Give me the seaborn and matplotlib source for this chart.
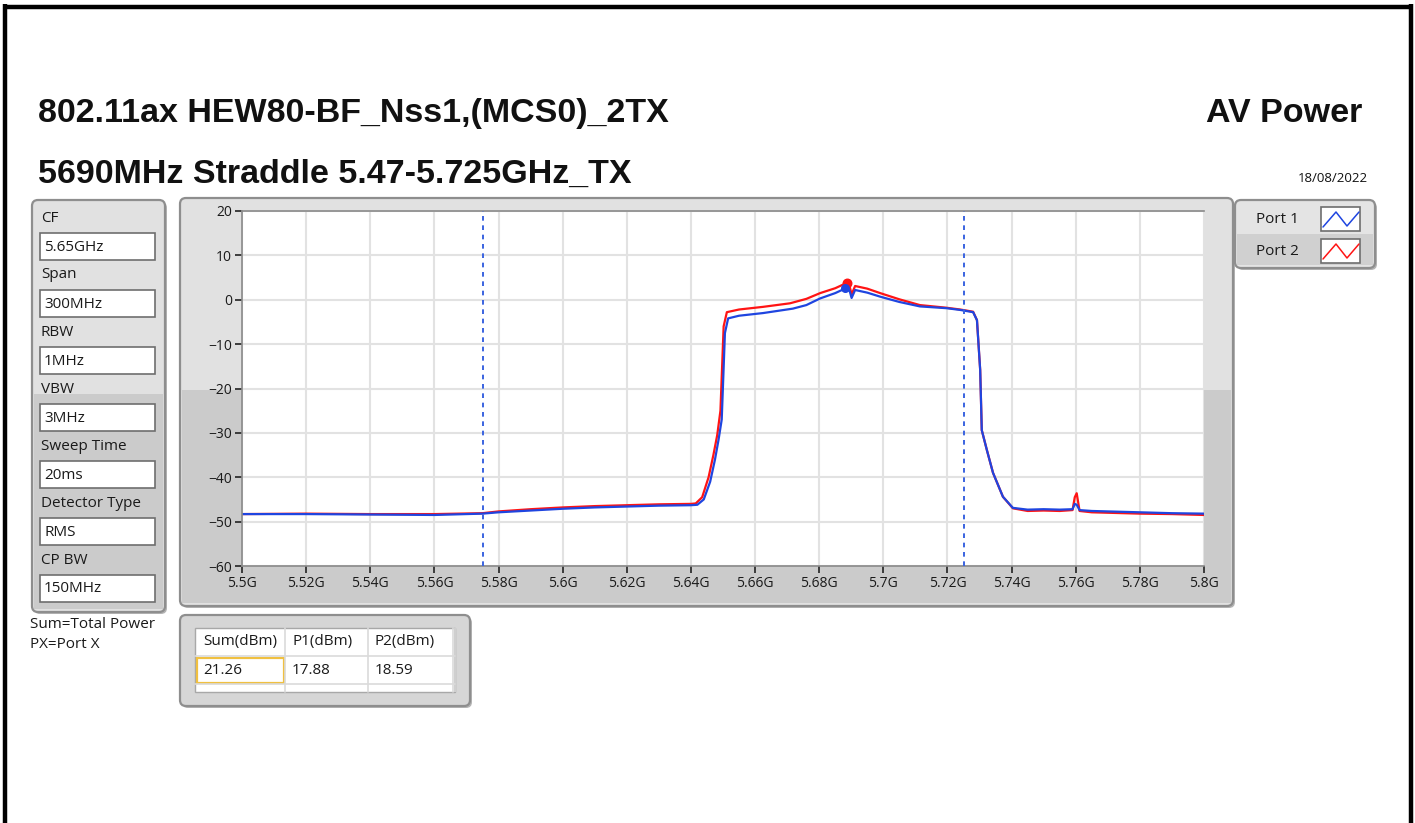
import matplotlib
matplotlib.use("Agg")
import matplotlib.pyplot as plt
from matplotlib.patches import FancyBboxPatch, Rectangle
import seaborn as sns
import pandas as pd

# values
port1_freq = [5.500, 5.520, 5.540, 5.560, 5.575, 5.580, 5.590, 5.600, 5.610, 5.620,
              5.630, 5.640, 5.642, 5.644, 5.646, 5.6475, 5.6486, 5.6496, 5.6506, 5.6516,
              5.655, 5.6625, 5.6718, 5.676, 5.6803, 5.685, 5.688, 5.6895, 5.6901, 5.6912,
              5.695, 5.699, 5.705, 5.7114, 5.7197, 5.724, 5.728, 5.7292, 5.7302, 5.7307,
              5.7323, 5.7342, 5.7373, 5.7404, 5.745, 5.750, 5.755, 5.759, 5.7597, 5.7603,
              5.7612, 5.765, 5.770, 5.780, 5.790, 5.800]
port1_dbm = [-48.3, -48.3, -48.4, -48.5, -48.2, -47.9, -47.5, -47.1, -46.8, -46.6,
             -46.4, -46.3, -46.2, -45.0, -41.0, -36.0, -31.6, -27.0, -7.5, -4.2,
             -3.6, -3.0, -2.0, -1.2, 0.3, 1.5, 2.5, 2.0, 0.4, 2.2,
             1.6, 0.7, -0.5, -1.5, -1.9, -2.3, -2.8, -4.6, -15.8, -29.4,
             -33.9, -39.0, -44.4, -46.9, -47.3, -47.2, -47.3, -47.2, -46.0, -46.2,
             -47.4, -47.6, -47.7, -47.9, -48.1, -48.2]
port2_freq = [5.500, 5.520, 5.540, 5.560, 5.575, 5.580, 5.590, 5.600, 5.610, 5.620,
              5.630, 5.640, 5.6415, 5.6435, 5.6455, 5.647, 5.6482, 5.6492, 5.6502, 5.6512,
              5.655, 5.6625, 5.6709, 5.676, 5.6803, 5.685, 5.6886, 5.6895, 5.6901, 5.6912,
              5.695, 5.699, 5.705, 5.7114, 5.7197, 5.724, 5.728, 5.7292, 5.7302, 5.7307,
              5.7323, 5.7342, 5.7373, 5.7404, 5.745, 5.750, 5.755, 5.759, 5.7597, 5.7603,
              5.7612, 5.765, 5.770, 5.780, 5.790, 5.800]
port2_dbm = [-48.3, -48.2, -48.3, -48.3, -48.1, -47.7, -47.2, -46.8, -46.5, -46.3,
             -46.1, -46.0, -45.9, -44.5, -40.0, -35.0, -30.5, -25.0, -6.0, -2.8,
             -2.2, -1.6, -0.8, 0.2, 1.5, 2.6, 3.8, 3.0, 1.2, 3.1,
             2.5, 1.5, 0.1, -1.2, -1.8, -2.2, -2.7, -4.6, -15.8, -29.4,
             -33.9, -39.0, -44.4, -47.0, -47.6, -47.5, -47.6, -47.4, -44.5, -43.6,
             -47.6, -47.9, -48.0, -48.2, -48.3, -48.5]
peak_p1 = (5.688, 2.6)
peak_p2 = (5.6886, 3.8)
limit_lines = [5.575, 5.725]
x_ticks = [5.50, 5.52, 5.54, 5.56, 5.58, 5.60, 5.62, 5.64, 5.66, 5.68, 5.70, 5.72, 5.74, 5.76, 5.78, 5.80]
x_tick_labels = ["5.5G", "5.52G", "5.54G", "5.56G", "5.58G", "5.6G", "5.62G", "5.64G",
                 "5.66G", "5.68G", "5.7G", "5.72G", "5.74G", "5.76G", "5.78G", "5.8G"]
y_ticks = [-60, -50, -40, -30, -20, -10, 0, 10, 20]
settings_names = ["CF", "Span", "RBW", "VBW", "Sweep Time", "Detector Type", "CP BW"]
settings_values = ["5.65GHz", "300MHz", "1MHz", "3MHz", "20ms", "RMS", "150MHz"]
table_headers = ["Sum(dBm)", "P1(dBm)", "P2(dBm)"]
table_values = ["21.26", "17.88", "18.59"]

BLUE = "#1f45e0"
RED = "#ff1414"

sns.set_theme(style="white")
plt.rcParams['font.family'] = ['Open Sans', 'DejaVu Sans']
TITLE_FONT = ['Liberation Sans', 'DejaVu Sans']

W, H = 1415, 823
fig = plt.figure(figsize=(W / 100, H / 100), dpi=100)
fig.patch.set_facecolor("white")

# background axes in pixel coordinates for all the panel furniture
bg = fig.add_axes([0, 0, 1, 1], zorder=0)
bg.set_xlim(0, W)
bg.set_ylim(H, 0)
bg.axis("off")


def panel(x0, y0, x1, y1, top="#e1e1e1", bottom="#cbcbcb", split=None):
    bg.add_patch(FancyBboxPatch((x0 + 2, y0 + 2), x1 - x0, y1 - y0,
                                boxstyle="round,pad=0,rounding_size=6",
                                fc="#b4b4b4", ec="none"))
    bg.add_patch(FancyBboxPatch((x0, y0), x1 - x0, y1 - y0,
                                boxstyle="round,pad=0,rounding_size=6",
                                fc=top, ec="none"))
    if split is not None:
        bg.add_patch(Rectangle((x0 + 2, split), x1 - x0 - 4, y1 - split - 3,
                               fc=bottom, ec="none"))
    bg.add_patch(FancyBboxPatch((x0, y0), x1 - x0, y1 - y0,
                                boxstyle="round,pad=0,rounding_size=6",
                                fc="none", ec="#8e8e8e", lw=1.6))


# outer black frame (no bottom edge)
bg.plot([5, 5], [4, H], color="black", lw=3.2, solid_capstyle="butt")
bg.plot([3, 1412], [7, 7], color="black", lw=3.2, solid_capstyle="butt")
bg.plot([1410.5, 1410.5], [4, H], color="black", lw=3.2, solid_capstyle="butt")

# titles
bg.text(38, 113, "802.11ax HEW80-BF_Nss1,(MCS0)_2TX", fontsize=24.5, fontweight="bold",
        family=TITLE_FONT, va="center", ha="left", color="#111111")
bg.text(1362, 113, "AV Power", fontsize=24.5, fontweight="bold",
        family=TITLE_FONT, va="center", ha="right", color="#111111")
bg.text(38, 174, "5690MHz Straddle 5.47-5.725GHz_TX", fontsize=24.5, fontweight="bold",
        family=TITLE_FONT, va="center", ha="left", color="#111111")
bg.text(1368, 178, "18/08/2022", fontsize=9.5, va="center", ha="right", color="#111111")

# settings panel
panel(32, 200, 165, 612, split=394)
for i, (name, val) in enumerate(zip(settings_names, settings_values)):
    y = 218 + 57 * i
    bg.text(41, y, name, fontsize=11, va="center", ha="left", color="#1a1a1a")
    bg.add_patch(Rectangle((40, y + 15), 115, 27, fc="white", ec="#6e6e6e", lw=1.2))
    bg.text(44, y + 29, val, fontsize=11, va="center", ha="left", color="#1a1a1a")
bg.text(30, 624, "Sum=Total Power", fontsize=11, va="center", ha="left", color="#1a1a1a")
bg.text(30, 645, "PX=Port X", fontsize=11, va="center", ha="left", color="#1a1a1a")

# graph frame
panel(180, 198, 1233, 606, split=390)

# legend
panel(1235, 200, 1375, 268, top="#e4e4e4", bottom="#d0d0d0", split=234)
for j, (lab, col) in enumerate([("Port 1", BLUE), ("Port 2", RED)]):
    yc = 219 + 32 * j
    bg.text(1256, yc, lab, fontsize=11, va="center", ha="left", color="#1a1a1a")
    bg.add_patch(Rectangle((1321, yc - 12), 39, 24, fc="white", ec="#6e6e6e", lw=1.2))
    bg.plot([1323, 1336, 1347, 1359], [yc + 8, yc - 7, yc + 7, yc - 7], color=col, lw=1.1)

# results table
panel(180, 615, 470, 706, top="#d6d6d6", split=None)
bg.add_patch(Rectangle((195, 628), 260, 64, fc="white", ec="#a8a8a8", lw=1))
bg.add_patch(Rectangle((454, 628), 2, 64, fc="#cfcfcf", ec="none"))
for xs in [285, 368, 453]:
    bg.plot([xs, xs], [628, 692], color="#dadada", lw=1.2)
for ys in [656, 684]:
    bg.plot([195, 455], [ys, ys], color="#dadada", lw=1.2)
bg.add_patch(Rectangle((197, 658), 87, 25, fc="white", ec="#f0c040", lw=1.6))
for xs, head, val in zip([203, 292, 375], table_headers, table_values):
    bg.text(xs, 642, head, fontsize=11, va="center", ha="left", color="#1a1a1a")
    bg.text(xs, 670, val, fontsize=11, va="center", ha="left", color="#1a1a1a")

# spectrum plot
ax = fig.add_axes([242 / W, 1 - 566 / H, 962 / W, 355 / H], zorder=1)
ax.set_facecolor("white")
p1 = pd.DataFrame({"freq": port1_freq, "dbm": port1_dbm})
p2 = pd.DataFrame({"freq": port2_freq, "dbm": port2_dbm})
sns.lineplot(data=p2, x="freq", y="dbm", color=RED, lw=1.6, estimator=None, ax=ax)
sns.lineplot(data=p1, x="freq", y="dbm", color=BLUE, lw=1.6, estimator=None, ax=ax)
ax.scatter([peak_p2[0]], [peak_p2[1]], s=38, color=RED, zorder=5)
ax.scatter([peak_p1[0]], [peak_p1[1]], s=30, color=BLUE, zorder=6)
for xv in limit_lines:
    ax.axvline(xv, color="#3a63e0", lw=1.4, ls=(0, (2.4, 2.4)), zorder=4)

ax.set_xlim(5.5, 5.8)
ax.set_ylim(-60, 20)
ax.set_xticks(x_ticks)
ax.set_xticklabels(x_tick_labels)
ax.set_yticks(y_ticks)
ax.set_xlabel("")
ax.set_ylabel("")
ax.grid(True, color="#e2e2e2", lw=1.5)
ax.set_axisbelow(True)
ax.tick_params(axis="both", which="both", direction="out", length=5, width=1.2,
               color="#222222", labelsize=10, labelcolor="#1a1a1a", pad=2,
               left=True, bottom=True)
for side in ["left", "top", "bottom"]:
    ax.spines[side].set_color("#8a8a8a")
    ax.spines[side].set_linewidth(1.2)
ax.spines["right"].set_visible(False)

fig.savefig("out.png", dpi=100)
